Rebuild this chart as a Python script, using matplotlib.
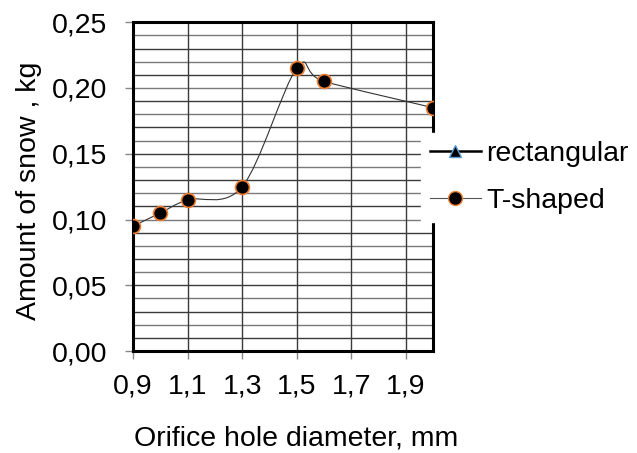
import matplotlib.pyplot as plt
from matplotlib.path import Path
from matplotlib.patches import PathPatch
from matplotlib.lines import Line2D
import numpy as np

plt.rcParams['font.family'] = ['Liberation Sans', 'DejaVu Sans']

# data
diameter = [0.9, 1.0, 1.1, 1.3, 1.5, 1.6, 2.0]
t_shaped = [0.095, 0.105, 0.115, 0.125, 0.215, 0.205, 0.185]
rectangular = []  # listed in the legend, no visible points
x_ticks = [0.9, 1.1, 1.3, 1.5, 1.7, 1.9]
y_ticks = [0.0, 0.05, 0.10, 0.15, 0.20, 0.25]

FS = 20.5


def smooth_path(xs, ys):
    # excel style smoothed line: cubic bezier segments through the points
    p = np.column_stack([xs, ys])
    n = len(p)
    verts = [p[0]]
    codes = [Path.MOVETO]
    for i in range(n - 1):
        p0 = p[i - 1] if i > 0 else p[i]
        p3 = p[i + 2] if i + 2 < n else p[i + 1]
        c1 = p[i] + (p[i + 1] - p0) / 6
        c2 = p[i + 1] - (p3 - p[i]) / 6
        verts += [c1, c2, p[i + 1]]
        codes += [Path.CURVE4] * 3
    return Path(verts, codes)


fig = plt.figure(figsize=(6.37, 4.53), dpi=100)
ax = fig.add_axes([0.209, 0.225, 0.471, 0.726])

ax.set_xlim(0.9, 2.0)
ax.set_ylim(0, 0.25)

for y in np.arange(1, 25) / 100:
    ax.axhline(y, color='#3a3a3a' if round(y * 100) % 2 else '#7a7a7a', lw=1, zorder=1)
for x in x_ticks[1:]:
    ax.axvline(x, color='#3a3a3a', lw=1, zorder=1)

if rectangular:
    ax.plot(diameter[:len(rectangular)], rectangular, color='black', lw=1.8,
            marker='^', ms=8, mfc='black', mec='#5b9bd5', zorder=3)
ax.add_patch(PathPatch(smooth_path(diameter, t_shaped), fc='none', ec='#333333', lw=0.8, zorder=4))
ax.plot(diameter, t_shaped, ls='none', marker='o', ms=10, mfc='black', mec='#ed7d31', mew=1.2, zorder=5)

for s in ax.spines.values():
    s.set_linewidth(2.2)
    s.set_color('black')

ax.set_xticks(x_ticks)
ax.set_xticklabels([f'{v:.1f}'.replace('.', ',') for v in x_ticks])
ax.set_yticks(y_ticks)
ax.set_yticklabels([f'{v:.2f}'.replace('.', ',') for v in y_ticks])
ax.tick_params(labelsize=FS, length=5.8, width=1, color='#888888')
ax.tick_params(axis='y', pad=13)
ax.tick_params(axis='x', pad=10)

fig.text(296 / 637, 0.016, 'Orifice hole diameter, mm', fontsize=FS, ha='center', va='baseline')
fig.text(29 / 637, 1 - 191 / 453, 'Amount of snow , kg', fontsize=FS, rotation=90,
         ha='center', va='center')

handles = [
    Line2D([], [], color='black', lw=1.8, marker='^', ms=8, mfc='black', mec='#5b9bd5'),
    Line2D([], [], color='#555555', lw=0.8, marker='o', ms=10, mfc='black', mec='#ed7d31'),
]
leg = fig.legend(handles, ['rectangular', 'T-shaped'], loc='center left',
                 bbox_to_anchor=(0.661, 0.608), fontsize=FS, frameon=True,
                 handlelength=1.8, handletextpad=0.2, labelspacing=0.72,
                 borderpad=0.3, borderaxespad=0, fancybox=False)
leg.get_frame().set_edgecolor('white')
leg.get_frame().set_facecolor('white')
leg.get_frame().set_alpha(1)
leg.set_zorder(10)

fig.savefig('out.png', dpi=100)
